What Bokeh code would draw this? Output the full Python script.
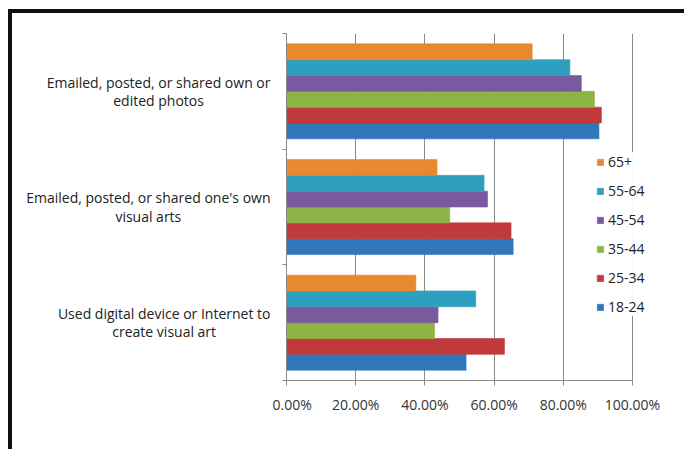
from bokeh.plotting import figure
from bokeh.layouts import row
from bokeh.models import (ColumnDataSource, Legend, LegendItem, FixedTicker,
                          PrintfTickFormatter, Range1d)
from bokeh.core.properties import value
from bokeh.embed import file_html
from bokeh.resources import INLINE

# ---- data ----
categories = [
    "Emailed, posted, or shared own or\nedited photos",
    "Emailed, posted, or shared one's own\nvisual arts",
    "Used digital device or Internet to\ncreate visual art",
]
series = ["18-24", "25-34", "35-44", "45-54", "55-64", "65+"]
colors = ["#2F77B9", "#C0393B", "#8CB545", "#7A5A9E", "#2E9FBE", "#E8892F"]
# values per series, in the order of categories
v_18_24 = [90.3, 65.5, 51.9]
v_25_34 = [91.0, 64.9, 63.0]
v_35_44 = [89.0, 47.2, 42.8]
v_45_54 = [85.2, 58.1, 43.8]
v_55_64 = [81.9, 57.1, 54.7]
v_65p = [71.0, 43.5, 37.4]
values = [v_18_24, v_25_34, v_35_44, v_45_54, v_55_64, v_65p]
x_ticks = [0, 20, 40, 60, 80, 100]

FONT = "Open Sans"
n_cat = len(categories)
bar_h = 0.137
TOP, H = 20, 436
BOTTOM = H - TOP - 347
LEFT_W = 260
MAIN_W = 672 - LEFT_W
BORDER_L, BORDER_R = 14, 4
# the value axis covers 346px (0..100); the frame runs on a little further
# to the right so that the legend, which sits partly past 100 %, is not clipped
PX_PER_UNIT = 346 / 100
x_end = (MAIN_W - BORDER_L - BORDER_R) / PX_PER_UNIT

y_range = Range1d(0, n_cat)

# ---- label panel (left) ----
lab = figure(width=LEFT_W, height=H, output_backend="svg", toolbar_location=None,
             x_range=Range1d(0, LEFT_W), y_range=y_range,
             min_border_left=0, min_border_right=0, min_border_top=TOP,
             min_border_bottom=BOTTOM)
lab.axis.visible = False
lab.grid.visible = False
lab.outline_line_color = None
lab_src = ColumnDataSource(dict(
    x=[LEFT_W - 2] * n_cat,
    y=[(n_cat - 1 - c) + 0.5 for c in range(n_cat)],
    text=categories))
lab.text(x="x", y="y", text="text", source=lab_src, anchor="center_right",
         text_align="center", text_baseline="middle", text_line_height=0.95,
         text_font=value(FONT), text_font_size="14px", text_color="#222222")

# ---- main chart ----
p = figure(width=MAIN_W, height=H, output_backend="svg", toolbar_location=None,
           x_range=Range1d(0, x_end), y_range=y_range,
           min_border_left=BORDER_L, min_border_right=BORDER_R, min_border_top=TOP,
           min_border_bottom=BOTTOM)
p.outline_line_color = None

renderers = []
for i, (name, col, vals) in enumerate(zip(series, colors, values)):
    # category 0 is at the top
    ys = [(n_cat - 1 - c) + 0.5 + (i - 2.5) * bar_h for c in range(n_cat)]
    src = ColumnDataSource(dict(y=ys, right=vals))
    r = p.hbar(y="y", right="right", left=0, height=bar_h, source=src,
               fill_color=col, line_color=col, line_alpha=0.6)
    renderers.append((name, r))

p.xaxis.ticker = FixedTicker(ticks=x_ticks)
p.xaxis.bounds = (x_ticks[0], x_ticks[-1])
p.xaxis.formatter = PrintfTickFormatter(format="%.2f%%")
p.xaxis.axis_line_color = "#8a8a8a"
p.xaxis.major_tick_line_color = "#8a8a8a"
p.xaxis.major_tick_out = 5
p.xaxis.major_tick_in = 0
p.xaxis.minor_tick_line_color = None
p.xaxis.major_label_text_font = FONT
p.xaxis.major_label_text_font_size = "14px"
p.xaxis.major_label_text_color = "#333333"
p.xaxis.major_label_standoff = 9

p.yaxis.ticker = FixedTicker(ticks=[], minor_ticks=list(range(n_cat + 1)))
p.yaxis.axis_line_color = "#8a8a8a"
p.yaxis.major_tick_line_color = None
p.yaxis.minor_tick_line_color = "#8a8a8a"
p.yaxis.minor_tick_out = 4
p.yaxis.minor_tick_in = 0
p.yaxis.major_label_text_font_size = "0px"

p.xgrid.grid_line_color = "#8a8a8a"
p.xgrid.ticker = FixedTicker(ticks=x_ticks)
p.ygrid.grid_line_color = None

items = [LegendItem(label=name, renderers=[r]) for name, r in reversed(renderers)]
legend = Legend(items=items, location=(310, 64), orientation="vertical",
                background_fill_color="white", border_line_color=None,
                glyph_width=8, glyph_height=8, label_height=14,
                label_standoff=4, spacing=10, padding=8, margin=0,
                label_text_font=FONT, label_text_font_size="14px",
                label_text_color="#222222")
p.add_layout(legend, "center")

layout = row(lab, p)
layout.styles = {"border-left": "4px solid #111", "border-top": "4px solid #111",
                 "margin-left": "8px", "margin-top": "9px"}

open("out.html", "w").write(file_html(layout, INLINE))
